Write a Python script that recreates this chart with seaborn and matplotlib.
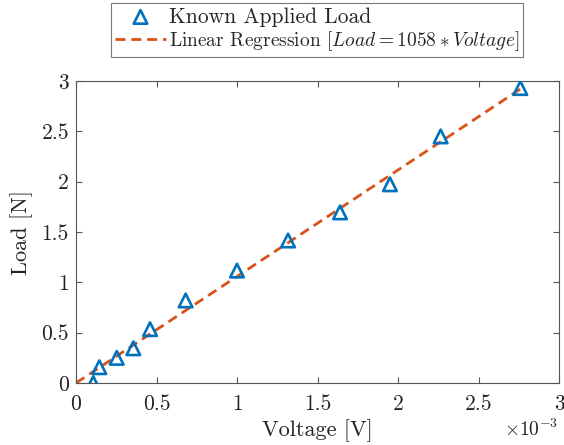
import matplotlib
matplotlib.use("Agg")
import matplotlib.pyplot as plt
import seaborn as sns
import numpy as np
import pandas as pd
from matplotlib.ticker import FuncFormatter, MultipleLocator

# ---- data ----
voltage = [0.107e-3, 0.145e-3, 0.253e-3, 0.356e-3, 0.46e-3, 0.681e-3,
           1.0e-3, 1.317e-3, 1.64e-3, 1.95e-3, 2.265e-3, 2.76e-3]
load = [0.0, 0.157, 0.25, 0.345, 0.535, 0.82,
        1.117, 1.416, 1.695, 1.974, 2.45, 2.93]
slope = 1058
fit_x = [0.0, 2.76e-3]
fit_y = [slope * x for x in fit_x]

sns.set_theme(style="white")
plt.rcParams['font.family'] = ['serif']
plt.rcParams['font.serif'] = ['cmr10']
plt.rcParams['mathtext.fontset'] = 'cm'
plt.rcParams['axes.unicode_minus'] = False
plt.rcParams['axes.formatter.use_mathtext'] = True

W, H = 564, 445
fig = plt.figure(figsize=(W / 100, H / 100), dpi=100)
ax = fig.add_axes([76 / W, 1 - 383 / H, 483 / W, 302 / H])

df_pts = pd.DataFrame({"Voltage": voltage, "Load": load})
df_fit = pd.DataFrame({"Voltage": fit_x, "Load": fit_y})

blue = "#0072BD"
orange = "#D95319"
lab_fit = r"Linear Regression $[Load=1058*Voltage]$"

sns.lineplot(data=df_fit, x="Voltage", y="Load", ax=ax, color=orange,
             lw=2.0, dashes=False, label=lab_fit, zorder=2)
ax.lines[-1].set_dashes((3.6, 2.1))
sns.scatterplot(data=df_pts, x="Voltage", y="Load", ax=ax, marker="^",
                s=95, facecolor="none", edgecolor=blue, linewidth=1.9,
                label="Known Applied Load", zorder=3)

ax.set_xlim(0, 3e-3)
ax.set_ylim(0, 3)
ax.xaxis.set_major_locator(MultipleLocator(0.5e-3))
ax.yaxis.set_major_locator(MultipleLocator(0.5))
ax.xaxis.set_major_formatter(FuncFormatter(lambda v, p: f"{v * 1e3:g}"))
ax.yaxis.set_major_formatter(FuncFormatter(lambda v, p: f"{v:g}"))

axc = "#555555"
tc = "#222222"
for s in ax.spines.values():
    s.set_visible(True)
    s.set_color(axc)
    s.set_linewidth(0.8)
ax.tick_params(direction="in", length=4, width=0.8, color=axc,
               top=True, right=True, bottom=True, left=True,
               labelsize=15.5, labelcolor=tc)
ax.tick_params(axis="x", pad=8)
ax.tick_params(axis="y", pad=5)

ax.set_xlabel("Voltage [V]", fontsize=16, color=tc, labelpad=4)
ax.set_ylabel("Load [N]", fontsize=16, color=tc, labelpad=6)
ax.text(0.998, -0.155, r"$\times10^{-3}$", transform=ax.transAxes,
        ha="right", va="center", fontsize=14, color=tc)

handles, labels = ax.get_legend_handles_labels()
order = [labels.index("Known Applied Load"), labels.index(lab_fit)]
leg = fig.legend([handles[i] for i in order], [labels[i] for i in order],
                 loc="center", bbox_to_anchor=(317 / W, 1 - 30 / H),
                 fontsize=15.5, frameon=True, fancybox=False,
                 edgecolor="#777777", framealpha=1, handlelength=2.4,
                 handletextpad=0.12, borderpad=0.18, labelspacing=0.12,
                 borderaxespad=0)
leg.get_texts()[1].set_fontsize(14.0)
leg.get_frame().set_linewidth(0.8)
if ax.get_legend() is not None:
    ax.get_legend().remove()

fig.savefig("out.png", dpi=100, facecolor="white")
